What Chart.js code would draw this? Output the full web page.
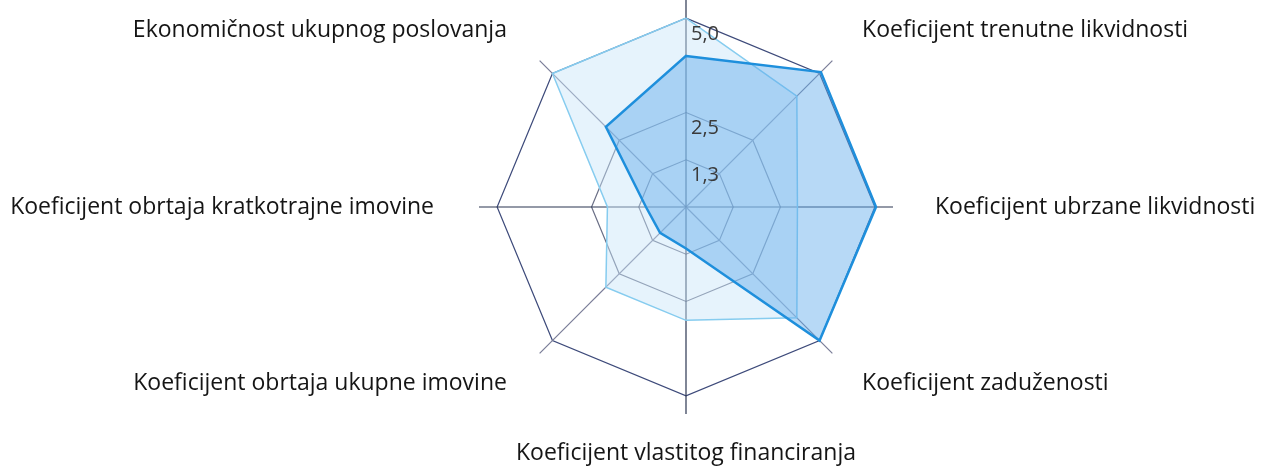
<!DOCTYPE html>
<html><head><meta charset="utf-8">
<script src="https://cdn.jsdelivr.net/npm/chart.js@4/dist/chart.umd.min.js"></script>
<style>html,body{margin:0;padding:0;background:#fff;overflow:hidden}#wrap{position:relative;width:1261px;height:466px}</style>
</head><body><div id="wrap"><canvas id="c" width="1261" height="466"></canvas></div>
<script>
const categories = ['', 'Koeficijent trenutne likvidnosti', 'Koeficijent ubrzane likvidnosti', 'Koeficijent zaduženosti', 'Koeficijent vlastitog financiranja', 'Koeficijent obrtaja ukupne imovine', 'Koeficijent obrtaja kratkotrajne imovine', 'Ekonomičnost ukupnog poslovanja'];
const seriesA = [4.0, 5.05, 5.03, 5.0, 1.1, 0.97, 1.06, 3.0];
const seriesB = [5.0, 4.15, 2.95, 4.15, 3.0, 3.0, 2.08, 5.0];
const tickValues = [1.25, 2.5, 5.0];
const tickLabels = ['1,3', '2,5', '5,0'];
const axisMax = 5.48;

const labelPlugin = {
  id: 'manualLabels',
  afterDraw(chart) {
    const s = chart.scales.r, ctx = chart.ctx;
    ctx.save();
    ctx.font = '23px "Open Sans"';
    ctx.fillStyle = '#151515';
    ctx.textBaseline = 'middle';
    categories.forEach((lab, i) => {
      const p = s.getPointPosition(i, s.drawingArea + 42);
      const dx = p.x - s.xCenter;
      let x = p.x, y = p.y;
      if (Math.abs(dx) < 1) { ctx.textAlign = 'center'; y -= 3; }
      else if (dx > 0) { ctx.textAlign = 'left'; }
      else { ctx.textAlign = 'right'; x -= 3; }
      ctx.fillText(lab, x, y);
    });
    ctx.font = '20px "Open Sans"';
    ctx.fillStyle = '#3a3a3a';
    ctx.textAlign = 'left';
    tickValues.forEach((v, i) => {
      const r = s.getDistanceFromCenterForValue(v);
      ctx.fillText(tickLabels[i], s.xCenter + 5, s.yCenter - r + 16);
    });
    ctx.restore();
  }
};

function build() {
  new Chart(document.getElementById('c'), {
    type: 'radar',
    data: {
      labels: categories,
      datasets: [
        { label: 'A', data: seriesA, borderColor: '#1e8fdc', borderWidth: 2.5,
          backgroundColor: 'rgba(95,170,235,0.45)', pointRadius: 0, fill: true },
        { label: 'B', data: seriesB, borderColor: '#86ccef', borderWidth: 1.5,
          backgroundColor: 'rgba(200,229,249,0.45)', pointRadius: 0, fill: true }
      ]
    },
    options: {
      responsive: false,
      animation: false,
      devicePixelRatio: 1,
      layout: { padding: { left: 479, right: 368, top: 0, bottom: 52 } },
      plugins: { legend: { display: false }, title: { display: false }, tooltip: { enabled: false } },
      elements: { line: { tension: 0 } },
      scales: {
        r: {
          min: 0, max: axisMax, startAngle: 0,
          afterBuildTicks: (sc) => { sc.ticks = [0].concat(tickValues).map(v => ({ value: v })); },
          ticks: { display: false },
          pointLabels: { display: false },
          grid: { color: (c) => c.index === 3 ? '#3d4a7a' : '#6a6f86', lineWidth: 1.2 },
          angleLines: { color: (c) => c.index % 2 === 0 ? '#2b3550' : '#7a7d98', lineWidth: 1.2 }
        }
      }
    },
    plugins: [labelPlugin]
  });
}
document.fonts.load('23px "Open Sans"').then(build, build);
</script></body></html>
